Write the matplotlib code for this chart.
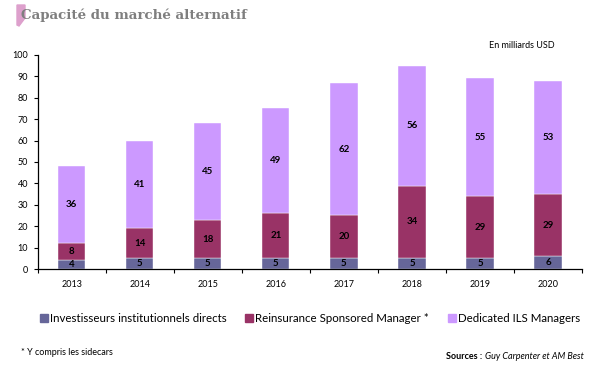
import matplotlib.pyplot as plt
import matplotlib.patches as mpatches
import numpy as np

years = ['2013', '2014', '2015', '2016', '2017', '2018', '2019', '2020']
direct = [4, 5, 5, 5, 5, 5, 5, 6]
sponsored = [8, 14, 18, 21, 20, 34, 29, 29]
dedicated = [36, 41, 45, 49, 62, 56, 55, 53]
series_names = ['Investisseurs institutionnels directs',
                'Reinsurance Sponsored Manager *',
                'Dedicated ILS Managers']
colors = ['#666699', '#993366', '#CC99FF']

plt.rcParams['font.family'] = ['Lato', 'DejaVu Sans']

fig = plt.figure(figsize=(6, 3.66), dpi=100)
ax = fig.add_axes([0.063, 0.265, 0.907, 0.585])

x = np.arange(len(years))
w = 0.4
bottom = np.zeros(len(years))
handles = []
for vals, col, name in zip([direct, sponsored, dedicated], colors, series_names):
    vals = np.array(vals)
    ax.bar(x, vals, w, bottom=bottom, color=col, edgecolor='white',
           linewidth=0.3, label=name)
    for xi, b, v in zip(x, bottom, vals):
        ax.text(xi, b + v / 2, str(v), ha='center', va='center',
                fontsize=7, fontweight='bold', color='black')
    bottom += vals
    handles.append(mpatches.Patch(color=col, label=name))

ax.set_xlim(-0.5, len(years) - 0.5)
ax.set_ylim(0, 100)
ax.set_yticks(range(0, 101, 10))
ax.tick_params(axis='y', labelsize=6.5, length=3, width=0.8, direction='out', pad=4)
ax.set_xticks(x)
ax.set_xticklabels(years)
ax.set_xticks(np.arange(-0.5, len(years)), minor=True)
ax.tick_params(axis='x', which='major', length=0, labelsize=6.5, pad=8)
ax.tick_params(axis='x', which='minor', length=3, width=0.8, direction='out')
for s in ['top', 'right']:
    ax.spines[s].set_visible(False)
for s in ['left', 'bottom']:
    ax.spines[s].set_linewidth(0.9)

ax.legend(handles=handles, loc='upper center', bbox_to_anchor=(0.50, -0.155),
          ncol=3, frameon=False, fontsize=8.3, handlelength=0.7,
          handleheight=0.7, handletextpad=0.2, columnspacing=1.6)

# title with pink mark
pts = [(17, 5), (25, 5), (25, 18), (19, 26), (17, 25)]
fig.patches.append(mpatches.Polygon([(px / 600, 1 - py / 366) for px, py in pts],
                                    closed=True, transform=fig.transFigure,
                                    color='#DDA0CC', zorder=0))
fig.text(0.035, 0.957, 'Capacité du marché alternatif', fontsize=9.6,
         fontweight='bold', family='DejaVu Serif', color='#7F7F7F',
         va='center', ha='left')

fig.text(0.925, 0.875, 'En milliards USD', fontsize=6.5, ha='right', va='center')
fig.text(0.035, 0.037, '* Y compris les sidecars', fontsize=6.5,
         ha='left', va='center')
src = fig.text(0.973, 0.027, 'Guy Carpenter et AM Best', fontsize=6.5,
               style='italic', ha='right', va='center')
fig.canvas.draw()
bb = src.get_window_extent(fig.canvas.get_renderer())
fig.text(bb.x0 / fig.bbox.width, 0.027, 'Sources : ', fontsize=6.5,
         fontweight='bold', ha='right', va='center')

fig.savefig('out.png', dpi=100)
